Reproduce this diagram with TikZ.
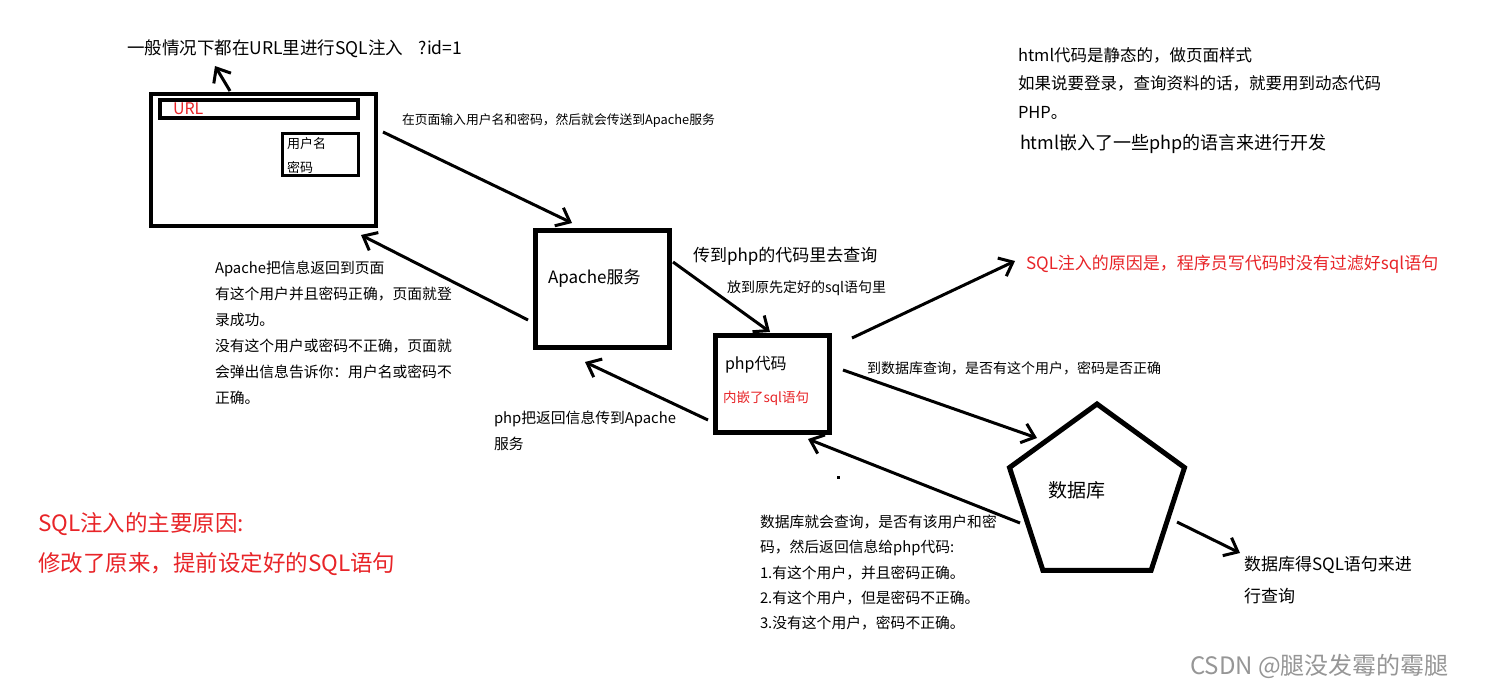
\documentclass[tikz,border=0pt]{standalone}
\usepackage{fontspec}
\setmainfont{Noto Sans CJK SC}
\usetikzlibrary{arrows.meta,shapes.geometric}
\definecolor{pred}{RGB}{232,36,40}
\definecolor{wmgray}{RGB}{150,150,150}
\newcommand{\fs}[2]{\fontsize{#1pt}{#2pt}\selectfont}
\tikzset{
  boxthick/.style={draw, line width=4.8pt, inner sep=0pt, outer sep=0pt},
  conn/.style={line width=3pt, -{Straight Barb[length=12pt,width=20pt,line width=3pt]}},
  txt/.style={anchor=base west, inner sep=0pt, outer sep=0pt, align=left},
}
\begin{document}
\begin{tikzpicture}[x=1pt,y=-1pt]
\useasboundingbox (0,0) rectangle (1491,693);
\fill[white] (0,0) rectangle (1491,693);
% browser window
\node[boxthick, minimum width=225pt, minimum height=132pt] (browser) at (263.5,160) {};
\node[draw, line width=4pt, inner sep=0pt, minimum width=198pt, minimum height=18pt] (urlbar) at (259,109) {};
\node[draw, line width=3pt, inner sep=0pt, minimum width=76pt, minimum height=42pt] (cred) at (320.5,154.5) {};
\node[txt, text=pred, font=\fs{16}{20}] (urltxt) at (173,114) {URL};
\node[txt, font=\fs{13}{24}] (credtxt) at (287,172) {用户名\\密码};
% Apache box
\node[boxthick, minimum width=134pt, minimum height=117pt] (apache) at (602.5,289) {};
\node[txt, font=\fs{17}{20}] (apachetxt) at (548,283) {Apache服务};
% php box
\node[boxthick, minimum width=114pt, minimum height=97pt] (php) at (772.5,384) {};
\node[txt, font=\fs{16}{20}] (phptxt) at (725,369) {php代码};
\node[txt, text=pred, font=\fs{13.5}{16}] (phpsql) at (723,402) {内嵌了sql语句};
% database pentagon
\node[regular polygon, regular polygon sides=5, draw, line width=5pt, minimum size=184pt, inner sep=0pt, outer sep=0pt] (db) at (1097,496) {};
\node[txt, font=\fs{19}{22}] (dbtxt) at (1048,497) {数据库};
\fill (836.5,475.5) rectangle (839.5,478.5);
% texts
\node[txt, font=\fs{17.5}{20}] (title) at (127,55) {一般情况下都在URL里进行SQL注入\hspace{0.9em}?id=1};
\node[txt, font=\fs{12.8}{16}] (inputtxt) at (402,124.6) {在页面输入用户名和密码，然后就会传送到Apache服务};
\node[txt, font=\fs{14.8}{26}] (backtxt) at (215,403.4) {Apache把信息返回到页面\\有这个用户并且密码正确，页面就登\\录成功。\\没有这个用户或密码不正确，页面就\\会弹出信息告诉你：用户名或密码不\\正确。};
\node[txt, font=\fs{17}{20}] (tophp) at (693,261) {传到php的代码里去查询};
\node[txt, font=\fs{14}{18}] (tosql) at (727,292) {放到原先定好的sql语句里};
\node[txt, font=\fs{14}{18}] (todb) at (867,373) {到数据库查询，是否有这个用户，密码是否正确};
\node[txt, font=\fs{14.8}{26}] (phpback) at (494,449.4) {php把返回信息传到Apache\\服务};
\node[txt, font=\fs{14.8}{25.3}] (dbback) at (760,628.6) {数据库就会查询，是否有该用户和密\\码，然后返回信息给php代码:\\1.有这个用户，并且密码正确。\\2.有这个用户，但是密码不正确。\\3.没有这个用户，密码不正确。};
\node[txt, font=\fs{16.5}{28.5}] (html) at (1018,118) {html代码是静态的，做页面样式\\如果说要登录，查询资料的话，就要用到动态代码\\PHP。};
\node[txt, font=\fs{18}{20}] (html2) at (1020,149.7) {html嵌入了一些php的语言来进行开发};
\node[txt, text=pred, font=\fs{17}{20}] (reason) at (1026,269) {SQL注入的原因是，程序员写代码时没有过滤好sql语句};
\node[txt, font=\fs{17}{32}] (dbquery) at (1244,602) {数据库得SQL语句来进\\行查询};
\node[txt, text=pred, font=\fs{22.5}{40}] (mainreason) at (38,571) {SQL注入的主要原因:\\修改了原来，提前设定好的SQL语句};
\node[txt, text=wmgray, font=\fs{24}{28}] (wm) at (1190,674) {CSDN @腿没发霉的霉腿};
% connector end points
\coordinate (a1s) at (230,91);   \coordinate (a1e) at (215,66);
\coordinate (a2s) at (383,132);  \coordinate (a2e) at (572,223);
\coordinate (a3s) at (528,320);  \coordinate (a3e) at (361,235);
\coordinate (a4s) at (673,262);  \coordinate (a4e) at (770,332);
\coordinate (a5s) at (708,420);  \coordinate (a5e) at (585,362);
\coordinate (a6s) at (852,338);  \coordinate (a6e) at (1015,261);
\coordinate (a7s) at (843,370);  \coordinate (a7e) at (1037,438);
\coordinate (a8s) at (1020,523); \coordinate (a8e) at (808,439);
\coordinate (a9s) at (1177,522); \coordinate (a9e) at (1240,553);
\draw[conn] (a1s) -- (a1e);
\draw[conn] (a2s) -- (a2e);
\draw[conn] (a3s) -- (a3e);
\draw[conn] (a4s) -- (a4e);
\draw[conn] (a5s) -- (a5e);
\draw[conn] (a6s) -- (a6e);
\draw[conn] (a7s) -- (a7e);
\draw[conn] (a8s) -- (a8e);
\draw[conn] (a9s) -- (a9e);
\end{tikzpicture}
\end{document}
